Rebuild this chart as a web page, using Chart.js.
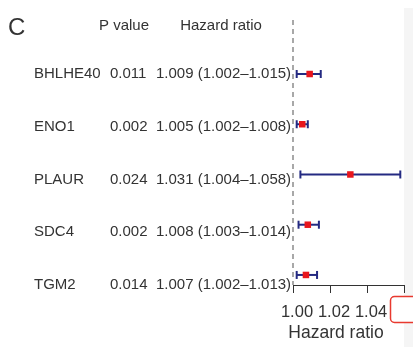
<!DOCTYPE html>
<html>
<head>
<meta charset="utf-8">
<script src="https://cdn.jsdelivr.net/npm/chart.js@4.4.0/dist/chart.umd.min.js"></script>
<style>
  html, body { margin: 0; padding: 0; background: #fff; }
  #wrap { width: 413px; height: 347px; }
</style>
</head>
<body>
<div id="wrap"><canvas id="forestChart" width="413" height="347"></canvas></div>
<script>
// data
const genes = ['BHLHE40', 'ENO1', 'PLAUR', 'SDC4', 'TGM2'];
const pValues = ['0.011', '0.002', '0.024', '0.002', '0.014'];
const hazardRatio = [1.009, 1.005, 1.031, 1.008, 1.007];
const ciLower = [1.002, 1.002, 1.004, 1.003, 1.002];
const ciUpper = [1.015, 1.008, 1.058, 1.014, 1.013];
const tickValues = [1.00, 1.02, 1.04, 1.06];
const tickLabels = ['1.00', '1.02', '1.04', '1.06'];

const NAVY = '#242a82';
const RED = '#e8161d';
const TEXT = '#333';
const FONT = '"Liberation Sans", Arial, sans-serif';

const yMin = -1.075, yMax = 4.2;

document.addEventListener('DOMContentLoaded', function() {
    const ctx = document.getElementById('forestChart');

    // 신뢰구간 선 (양끝 cap 포함)
    const ciSets = genes.map((g, i) => ({
        type: 'line',
        data: [{ x: ciLower[i], y: i }, { x: ciUpper[i], y: i }],
        borderColor: NAVY,
        borderWidth: 2,
        pointStyle: 'line',
        pointRotation: 90,
        pointRadius: 4,
        pointBorderWidth: 2,
        pointBorderColor: NAVY,
        clip: false,
        order: 2
    }));

    const textPlugin = {
        id: 'forestText',
        beforeDraw(chart) {
            const c = chart.ctx;
            c.save();
            c.fillStyle = '#fff';
            c.fillRect(0, 0, chart.width, chart.height);
            c.fillStyle = '#f5f5f5';
            c.fillRect(404, 8, chart.width - 404, chart.height - 8);
            c.restore();
        },
        afterDraw(chart) {
            const c = chart.ctx;
            const yt = chart.scales.yText;
            c.save();
            c.fillStyle = TEXT;
            c.textBaseline = 'middle';

            c.font = '24px ' + FONT;
            c.textAlign = 'left';
            c.fillText('C', 8, 28);

            c.font = '15px ' + FONT;
            c.textAlign = 'center';
            c.fillText('P value', 124, 26);
            c.fillText('Hazard ratio', 221, 26);

            c.textAlign = 'left';
            genes.forEach((g, i) => {
                const y = yt.getPixelForValue(i);
                c.fillText(g, 34, y);
                c.fillText(pValues[i], 110, y);
                const hr = hazardRatio[i].toFixed(3) + ' (' + ciLower[i].toFixed(3) + '\u2013' + ciUpper[i].toFixed(3) + ')';
                c.fillText(hr, 156, y);
            });

            c.font = '17.5px ' + FONT;
            c.textAlign = 'center';
            c.fillText('Hazard ratio', 336, 333);

            // 오른쪽 아래 빨간 테두리 상자
            c.beginPath();
            c.roundRect(390.5, 296.5, 30, 26, 4);
            c.fillStyle = '#fff';
            c.fill();
            c.strokeStyle = '#e8392f';
            c.lineWidth = 1.5;
            c.stroke();
            c.restore();
        }
    };

    new Chart(ctx, {
        type: 'scatter',
        data: {
            datasets: [
                {
                    type: 'scatter',
                    data: hazardRatio.map((v, i) => ({ x: v, y: i })),
                    pointStyle: 'rect',
                    pointRadius: 4.6,
                    backgroundColor: RED,
                    borderWidth: 0,
                    clip: false,
                    order: 0
                },
                ...ciSets,
                {
                    type: 'line',
                    data: [{ x: 1, y: yMin }, { x: 1, y: yMax }],
                    borderColor: '#6f6f6f',
                    borderWidth: 1.2,
                    borderDash: [5, 4],
                    pointRadius: 0,
                    clip: false,
                    order: 3
                }
            ]
        },
        options: {
            responsive: false,
            animation: false,
            events: [],
            layout: { padding: { left: 293, right: 9, top: 20, bottom: 0 } },
            plugins: {
                legend: { display: false },
                tooltip: { enabled: false }
            },
            scales: {
                x: {
                    type: 'linear',
                    min: 1.0,
                    max: 1.06,
                    afterBuildTicks: s => { s.ticks = tickValues.map(v => ({ value: v })); },
                    afterFit: s => { s.height = 62; s.paddingLeft = 0; s.paddingRight = 0; },
                    grid: {
                        display: true,
                        drawOnChartArea: false,
                        drawTicks: true,
                        tickLength: 8,
                        color: '#333',
                        lineWidth: 1
                    },
                    border: { display: true, color: '#333', width: 1 },
                    ticks: {
                        callback: (v, i) => tickLabels[i],
                        font: { family: FONT, size: 16.5 },
                        color: TEXT,
                        padding: 10,
                        labelOffset: 4,
                        maxRotation: 0,
                        autoSkip: false
                    }
                },
                y: {
                    type: 'linear',
                    display: false,
                    reverse: true,
                    min: yMin,
                    max: yMax
                },
                yText: {
                    type: 'linear',
                    axis: 'y',
                    display: false,
                    reverse: true,
                    min: -1.024,
                    max: 4.0
                }
            }
        },
        plugins: [textPlugin]
    });
});
</script>
</body>
</html>
